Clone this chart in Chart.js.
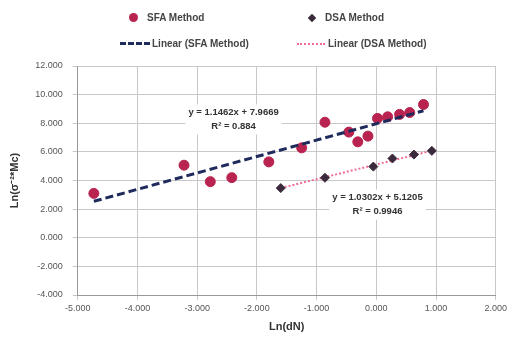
<!DOCTYPE html>
<html>
<head>
<meta charset="utf-8">
<script src="https://cdn.jsdelivr.net/npm/chart.js@4"></script>
<style>
  html, body { margin: 0; padding: 0; background: #fff; }
  #wrap { position: relative; width: 510px; height: 340px; }
  #legend { position: absolute; left: 0; top: 0; width: 510px; height: 56px;
    font: bold 10px "Liberation Sans", Arial, sans-serif; color: #444; }
  .item { position: absolute; display: flex; align-items: center; white-space: nowrap; }
  .dot { width: 9px; height: 9px; border-radius: 50%; background: #b8234f; margin-right: 9px; }
  .dia { width: 6px; height: 6px; background: #3b2a3c; transform: rotate(45deg); margin: 0 10px 0 2px; }
  .dash { width: 30px; border-top: 3px dashed #1f2a5c; margin-right: 2px; }
  .dott { width: 28px; border-top: 2px dotted #f06b95; margin-right: 3px; }
</style>
</head>
<body>
<div id="wrap">
  <div id="legend">
    <div class="item" style="left:129px;top:12px"><span class="dot"></span>SFA Method</div>
    <div class="item" style="left:307px;top:12px"><span class="dia"></span>DSA Method</div>
    <div class="item" style="left:120px;top:38px"><span class="dash"></span>Linear (SFA Method)</div>
    <div class="item" style="left:297px;top:38px"><span class="dott"></span>Linear (DSA Method)</div>
  </div>
  <canvas id="chart" width="510" height="340"></canvas>
</div>
<script>
// valori
const sfaX = [-4.73, -3.22, -2.78, -2.42, -1.80, -1.25, -0.86, -0.46, -0.31, -0.14, 0.02, 0.19, 0.39, 0.56, 0.79];
const sfaY = [3.10, 5.07, 3.92, 4.20, 5.30, 6.28, 8.07, 7.38, 6.70, 7.10, 8.34, 8.45, 8.62, 8.75, 9.31];
const dsaX = [-1.60, -0.86, -0.05, 0.27, 0.63, 0.93];
const dsaY = [3.47, 4.19, 4.97, 5.54, 5.81, 6.07];

// coefficienti delle rette di tendenza (slope, intercept, R2)
const sfaFit = [1.1462, 7.9669, 0.884];
const dsaFit = [1.0302, 5.1205, 0.9946];

const xTicks = [-5, -4, -3, -2, -1, 0, 1, 2];
const yTicks = [-4, -2, 0, 2, 4, 6, 8, 10, 12];

const font = "'Liberation Sans', Arial, sans-serif";

function pts(xs, ys) {
  let ans = [];
  for (let i = 0; i < xs.length; i++) ans.push({x: xs[i], y: ys[i]});
  return ans;
}

// estremi della retta dal min al max delle x
function trend(xs, fit) {
  let a = Math.min(...xs), b = Math.max(...xs);
  return [{x: a, y: fit[0] * a + fit[1]}, {x: b, y: fit[0] * b + fit[1]}];
}

function eqText(fit) {
  return ['y = ' + fit[0].toFixed(4) + 'x + ' + fit[1].toFixed(4), 'R² = ' + fit[2]];
}

// etichette delle equazioni, posizionate in coordinate dati
const labelsPlugin = {
  id: 'eqLabels',
  afterDatasetsDraw(chart) {
    const ctx = chart.ctx, xs = chart.scales.x, ys = chart.scales.y;
    const list = [
      {lines: eqText(sfaFit), x: -2.39, y: 8.75},
      {lines: eqText(dsaFit), x: 0.02, y: 2.80}
    ];
    ctx.save();
    ctx.font = 'bold 9.5px ' + font;
    ctx.textAlign = 'center';
    ctx.textBaseline = 'middle';
    for (let l of list) {
      const cx = xs.getPixelForValue(l.x), cy = ys.getPixelForValue(l.y);
      const w = ctx.measureText(l.lines[0]).width + 6;
      ctx.fillStyle = '#fff';
      ctx.fillRect(cx - w / 2, cy - 8, w, 30);
      ctx.fillStyle = '#333';
      ctx.fillText(l.lines[0], cx, cy);
      ctx.fillText(l.lines[1], cx, cy + 14);
    }
    ctx.restore();
  }
};

new Chart(document.getElementById('chart'), {
  type: 'scatter',
  data: {
    datasets: [
      {label: 'Linear (SFA Method)', data: trend(sfaX, sfaFit), showLine: true, pointRadius: 0,
       borderColor: '#1f2a5c', borderWidth: 3, borderDash: [8, 4], order: 1},
      {label: 'Linear (DSA Method)', data: trend(dsaX, dsaFit), showLine: true, pointRadius: 0,
       borderColor: '#f06b95', borderWidth: 2, borderDash: [2, 2], order: 1},
      {label: 'SFA Method', data: pts(sfaX, sfaY), pointStyle: 'circle', pointRadius: 5,
       backgroundColor: '#b8234f', borderColor: '#b8234f', order: 2},
      {label: 'DSA Method', data: pts(dsaX, dsaY), pointStyle: 'rectRot', pointRadius: 4.5,
       backgroundColor: '#3b2a3c', borderColor: '#3b2a3c', order: 0}
    ]
  },
  options: {
    responsive: false,
    animation: false,
    layout: {padding: {top: 66, right: 14, left: 4, bottom: 2}},
    plugins: {legend: {display: false}, tooltip: {enabled: false}},
    scales: {
      x: {
        type: 'linear', min: -5, max: 2,
        afterBuildTicks: (s) => { s.ticks = xTicks.map(v => ({value: v})); },
        ticks: {callback: v => v.toFixed(3), color: '#555', font: {family: font, size: 9}, maxRotation: 0},
        grid: {color: '#c8c8c8', tickLength: 5},
        border: {color: '#999'},
        title: {display: true, text: 'Ln(dN)', color: '#333', font: {family: font, size: 11, weight: 'bold'}, padding: {top: 4}}
      },
      y: {
        type: 'linear', min: -4, max: 12,
        afterBuildTicks: (s) => { s.ticks = yTicks.map(v => ({value: v})); },
        ticks: {callback: v => v.toFixed(3), color: '#555', font: {family: font, size: 9}, padding: 10},
        grid: {color: '#c8c8c8', tickLength: 5},
        border: {color: '#999'},
        title: {display: true, text: 'Ln(σ⁻²*Mc)', color: '#333', font: {family: font, size: 11, weight: 'bold'}}
      }
    }
  },
  plugins: [labelsPlugin]
});
</script>
</body>
</html>
